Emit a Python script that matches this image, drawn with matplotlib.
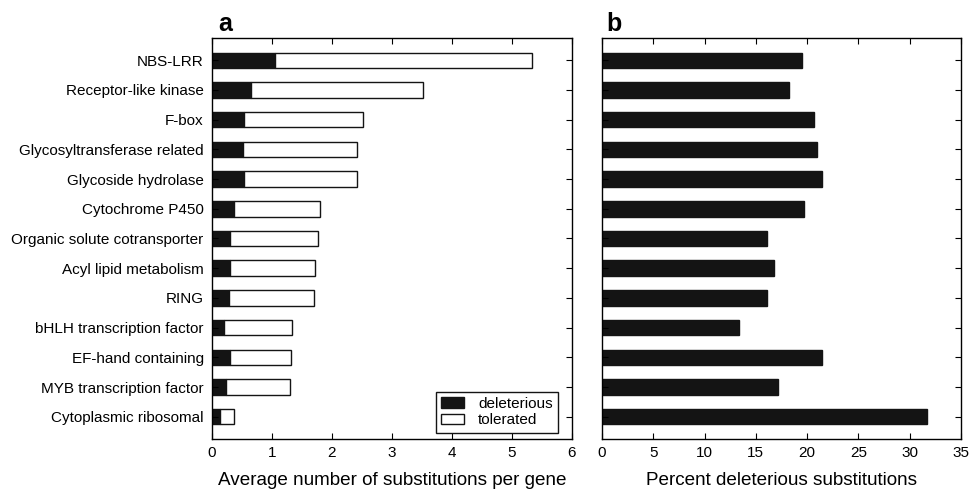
import numpy as np
import matplotlib
matplotlib.use("Agg")
import matplotlib.pyplot as plt
from matplotlib.patches import Patch

# Gene families (top to bottom)
families = [
    "NBS-LRR", "Receptor-like kinase", "F-box", "Glycosyltransferase related",
    "Glycoside hydrolase", "Cytochrome P450", "Organic solute cotransporter",
    "Acyl lipid metabolism", "RING", "bHLH transcription factor",
    "EF-hand containing", "MYB transcription factor", "Cytoplasmic ribosomal",
]
# Panel a: average substitutions per gene
deleterious = [1.05, 0.65, 0.53, 0.52, 0.53, 0.37, 0.30, 0.30, 0.28, 0.20, 0.30, 0.23, 0.13]
total = [5.33, 3.52, 2.52, 2.42, 2.42, 1.80, 1.77, 1.72, 1.70, 1.34, 1.32, 1.30, 0.37]
# Panel b: percent deleterious substitutions
percent = [19.5, 18.2, 20.7, 21.0, 21.4, 19.7, 16.1, 16.8, 16.05, 13.4, 21.4, 17.2, 31.7]

tolerated = [t - d for t, d in zip(total, deleterious)]
y = np.arange(len(families))
dark = "#141414"
plt.rcParams["font.family"] = ["Liberation Sans", "DejaVu Sans"]

fig = plt.figure(figsize=(9.71, 4.9), dpi=100)
ax1 = fig.add_axes([212 / 971, 1 - 439 / 490, 360 / 971, 401 / 490])
ax2 = fig.add_axes([602 / 971, 1 - 439 / 490, 359 / 971, 401 / 490])

# Panel a - stacked bars
ax1.barh(y, deleterious, height=0.52, color=dark, edgecolor=dark, linewidth=1)
ax1.barh(y, tolerated, left=deleterious, height=0.52, color="white",
         edgecolor=dark, linewidth=1)
ax1.set_xlim(0, 6)
ax1.set_ylim(len(families) - 0.25, -0.75)
ax1.set_yticks(y)
ax1.set_yticklabels(families, fontsize=11)
ax1.set_xlabel("Average number of substitutions per gene", fontsize=13.6,
               labelpad=9)
leg = ax1.legend(handles=[Patch(facecolor=dark, edgecolor=dark, label="deleterious"),
                          Patch(facecolor="white", edgecolor=dark, label="tolerated")],
                 loc="lower right", fancybox=False, edgecolor=dark, fontsize=11,
                 handlelength=1.5, borderpad=0.35, labelspacing=0.15,
                 handletextpad=0.9, framealpha=1, borderaxespad=0,
                 bbox_to_anchor=(0.961, 0.016))
leg.get_frame().set_linewidth(1)

# Panel b
ax2.barh(y, percent, height=0.52, color=dark, edgecolor=dark, linewidth=1)
ax2.set_xlim(0, 35)
ax2.set_ylim(len(families) - 0.25, -0.75)
ax2.set_yticks(y)
ax2.set_yticklabels([])
ax2.set_xlabel("Percent deleterious substitutions", fontsize=13.6, labelpad=9)

for ax in (ax1, ax2):
    ax.tick_params(direction="in", top=True, right=True, length=4, width=0.8,
                   labelsize=11)
    ax.tick_params(axis="x", pad=5)
    ax.tick_params(axis="y", pad=6)
    for s in ax.spines.values():
        s.set_linewidth(1)

fig.text(218 / 971, 1 - 24 / 490, "a", fontsize=18, fontweight="bold",
         va="center")
fig.text(606 / 971, 1 - 24 / 490, "b", fontsize=18, fontweight="bold",
         va="center")

fig.savefig("out.png", dpi=100)
